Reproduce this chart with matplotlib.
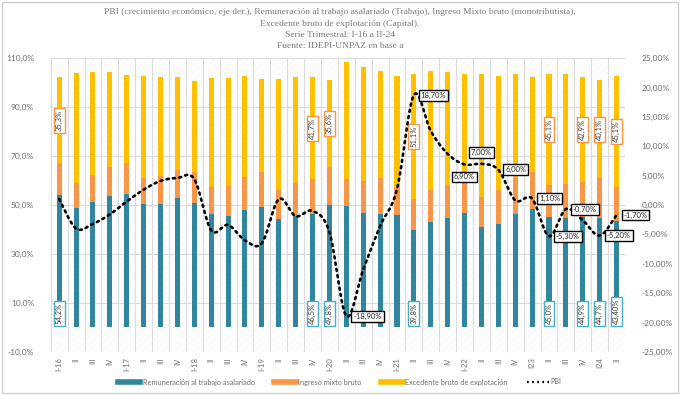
import matplotlib
matplotlib.use("Agg")
import matplotlib.pyplot as plt
import numpy as np
from matplotlib.patches import Rectangle
from matplotlib.lines import Line2D

plt.rcParams['hatch.linewidth'] = 0.3

# ---------------- data ----------------
quarters = ["I-16", "II", "III", "IV", "I-17", "II", "III", "IV", "I-18", "II", "III", "IV",
            "I-19", "II", "III", "IV", "I-20", "II", "III", "IV", "I-21", "II", "III", "IV",
            "I-22", "II", "III", "IV", "I23", "II", "III", "IV", "I24", "II"]

remuneracion = [54.2, 48.6, 51.4, 53.8, 54.5, 50.3, 50.3, 52.7, 50.8, 46.2, 45.4, 48.1,
                49.2, 44.1, 45.5, 46.5, 49.8, 49.6, 46.9, 46.5, 45.9, 39.8, 42.9, 44.8,
                46.9, 41.2, 42.2, 46.2, 48.4, 45.0, 44.8, 44.9, 44.7, 43.4]
mixto = [12.8, 10.5, 10.8, 11.8, 12.5, 10.6, 11.5, 11.6, 12.8, 11.0, 12.2, 13.3,
         14.4, 12.2, 13.6, 14.0, 15.8, 11.0, 12.9, 14.5, 10.9, 12.5, 13.2, 13.4,
         16.7, 12.2, 13.9, 14.7, 14.9, 13.2, 13.6, 14.6, 16.2, 14.1]
excedente = [35.3, 44.6, 42.2, 38.8, 36.1, 41.9, 40.3, 37.8, 37.0, 44.8, 44.4, 41.4,
             37.7, 45.1, 43.3, 41.7, 35.6, 47.6, 46.7, 43.8, 46.0, 51.1, 48.6, 46.2,
             39.7, 49.9, 46.6, 42.4, 38.8, 45.1, 44.9, 42.9, 40.1, 45.1]
pbi = [1.0, -4.0, -3.2, -1.6, 0.6, 2.6, 4.1, 4.6, 4.4, -4.3, -3.4, -6.0,
       -6.5, 1.0, -1.9, -1.0, -4.6, -18.9, -11.0, -3.6, 2.7, 18.7, 12.6, 8.7,
       6.9, 7.0, 6.0, 0.8, 1.1, -5.3, -0.7, -2.6, -5.2, -1.7]

rem_label_idx = [0, 15, 16, 21, 29, 31, 32, 33]
rem_label_txt = ["54,2%", "46,5%", "49,8%", "39,8%", "45,0%", "44,9%", "44,7%", "43,40%"]
exc_label_idx = [0, 15, 16, 21, 29, 31, 32, 33]
exc_label_txt = ["35,3%", "41,7%", "35,6%", "51,1%", "45,1%", "42,9%", "40,1%", "45,1%"]
pbi_label_idx = [17, 21, 24, 25, 26, 28, 29, 30, 32, 33]
pbi_label_txt = ["-18,90%", "18,70%", "6,90%", "7,00%", "6,00%", "1,10%", "-5,30%",
                 "-0,70%", "-5,20%", "-1,70%"]
pbi_label_pos = ["right", "right", "below", "above", "right", "right", "right",
                 "right", "right", "right"]

title_lines = ["PBI (crecimiento económico, eje der.), Remuneración al trabajo asalariado (Trabajo), Ingreso Mixto bruto (monotributista),",
               "Excedente bruto de explotación (Capital).",
               "Serie Trimestral: I-16 a II-24",
               "Fuente: IDEPI-UNPAZ en base a"]

series_names = ["Remuneración al trabajo asalariado", "Ingreso mixto bruto",
                "Excedente bruto de explotación", "PBI"]

left_ticks = [-10, 10, 30, 50, 70, 90, 110]
right_ticks = [-25, -20, -15, -10, -5, 0, 5, 10, 15, 20, 25]

# ---------------- style ----------------
c_blue = "#31859C"
c_orange = "#F79646"
c_yellow = "#FFC000"
c_text = "#6f6f6f"
c_grid = "#d9d9d9"

fig = plt.figure(figsize=(6.8, 3.95), dpi=100)
ax = fig.add_axes([0.0746, 0.109, 0.9191 - 0.0746, 0.853 - 0.109])
ax2 = ax.twinx()

x = np.arange(len(quarters))
rem = np.array(remuneracion)
mix = np.array(mixto)
exc = np.array(excedente)

# background hatch
ax.add_patch(Rectangle((0, 0), 1, 1, transform=ax.transAxes, facecolor="white",
                       edgecolor="#eeeeee", hatch="/////", lw=0, zorder=0))

w = 0.3
ax.bar(x, rem, w, color=c_blue, zorder=3)
ax.bar(x, mix, w, bottom=rem, color=c_orange, zorder=3)
ax.bar(x, exc, w, bottom=rem + mix, color=c_yellow, zorder=3)

ax.set_xlim(-0.5, len(quarters) - 0.5)
ax.set_ylim(-10, 110)
ax.set_yticks(left_ticks)
ax.set_yticklabels([f"{v:.1f}%".replace(".", ",") for v in left_ticks])
for v in left_ticks:
    ax.axhline(v, color=c_grid, lw=0.7, zorder=1)
for b in np.arange(-0.5, len(quarters), 1.0):
    ax.axvline(b, color=c_grid, lw=0.7, zorder=1)

ax.set_xticks(x)
ax.set_xticklabels(quarters, rotation=90, fontsize=5.5, color=c_text,
                   family="Lato")
ax.tick_params(axis="both", length=0, colors=c_text)
ax.tick_params(axis="y", labelsize=6, pad=12)
ax.tick_params(axis="x", pad=4)
for s in ax.spines.values():
    s.set_visible(False)
for lab in ax.get_yticklabels():
    lab.set_family("Lato")

# data labels on bars
for i, t in zip(rem_label_idx, rem_label_txt):
    ax.text(x[i], 1.3, t, rotation=90, ha="center", va="bottom", fontsize=5.5,
            color="#404040", family="Lato", zorder=6,
            bbox=dict(boxstyle="square,pad=0.25", fc="white", ec="#4BACC6", lw=1.0))
for i, t in zip(exc_label_idx, exc_label_txt):
    yc = rem[i] + mix[i] + exc[i] / 2.0
    ax.text(x[i], yc, t, rotation=90, ha="center", va="center", fontsize=5.5,
            color="#404040", family="Lato", zorder=6,
            bbox=dict(boxstyle="square,pad=0.25", fc="white", ec=c_orange, lw=1.0))

# PBI smoothed line (Catmull-Rom through the data points)
p = np.array(pbi)
xs, ys = [], []
px = np.concatenate([[x[0]], x, [x[-1]]]).astype(float)
py = np.concatenate([[p[0]], p, [p[-1]]])
T = np.linspace(0, 1, 20, endpoint=False)
for k in range(1, len(px) - 2):
    p0, p1, p2, p3 = py[k - 1], py[k], py[k + 1], py[k + 2]
    x0, x1, x2, x3 = px[k - 1], px[k], px[k + 1], px[k + 2]
    xs.extend(0.5 * ((2 * x1) + (-x0 + x2) * T + (2 * x0 - 5 * x1 + 4 * x2 - x3) * T**2
                     + (-x0 + 3 * x1 - 3 * x2 + x3) * T**3))
    ys.extend(0.5 * ((2 * p1) + (-p0 + p2) * T + (2 * p0 - 5 * p1 + 4 * p2 - p3) * T**2
                     + (-p0 + 3 * p1 - 3 * p2 + p3) * T**3))
xs.append(x[-1]); ys.append(p[-1])
ax2.plot(xs, ys, color="black", lw=1.9, linestyle=(0, (0.8, 1.6)),
         dash_capstyle="round", zorder=5)
ax2.set_ylim(-25, 25)
ax2.set_yticks(right_ticks)
ax2.set_yticklabels([f"{v:.2f}%".replace(".", ",") for v in right_ticks])
ax2.tick_params(axis="y", length=0, labelsize=6, colors=c_text, pad=12)
for lab in ax2.get_yticklabels():
    lab.set_family("Lato")
for s in ax2.spines.values():
    s.set_visible(False)

for i, t, pos in zip(pbi_label_idx, pbi_label_txt, pbi_label_pos):
    if pos == "right":
        kw = dict(xytext=(5, 0), ha="left", va="center")
    elif pos == "below":
        kw = dict(xytext=(0, -9), ha="center", va="center")
    else:
        kw = dict(xytext=(0, 8), ha="center", va="center")
    ax2.annotate(t, (x[i], p[i]), textcoords="offset points", fontsize=5.5,
                 color="#262626", family="Lato", zorder=7,
                 bbox=dict(boxstyle="square,pad=0.25", fc="white", ec="black", lw=1.0),
                 **kw)

# title
for k, line in enumerate(title_lines):
    fig.text(0.5, 1 - (12 + 11.5 * k) / 395, line, ha="center", va="center",
             fontsize=6.8, color="#7a7a7a", family="Liberation Serif")

# legend
handles = [Line2D([0], [0], color=c_blue, lw=4),
           Line2D([0], [0], color=c_orange, lw=4),
           Line2D([0], [0], color=c_yellow, lw=4),
           Line2D([0], [0], color="black", lw=1.6, linestyle=(0, (0.8, 1.5)))]
leg = fig.legend(handles, series_names, loc="center", bbox_to_anchor=(0.5, 1 - 382 / 395),
                 ncol=4, frameon=False, handlelength=3.0, columnspacing=2.6,
                 handletextpad=0.3, prop={"family": "Lato", "size": 5.3})
for t in leg.get_texts():
    t.set_color(c_text)

# outer border
fig.patches.append(Rectangle((0.003, 0.004), 0.994, 0.992, transform=fig.transFigure,
                             fill=False, edgecolor="#d0d0d0", lw=1.0))

fig.savefig("out.png", dpi=100)
